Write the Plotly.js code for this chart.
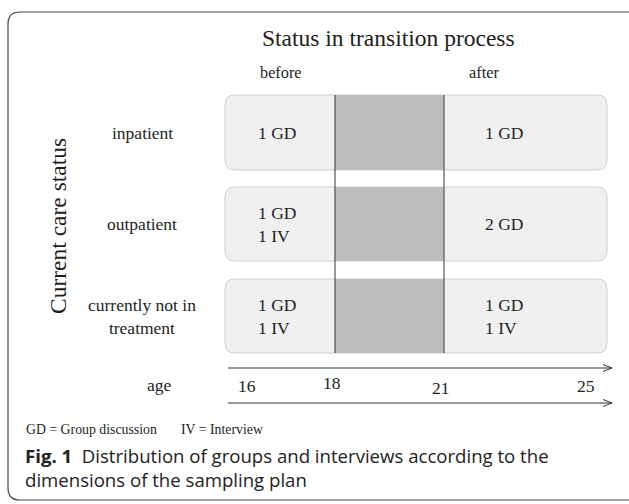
<!DOCTYPE html>
<html><head><meta charset="utf-8">
<script src="https://cdn.plot.ly/plotly-3.0.1.min.js"></script>
<style>html,body{margin:0;padding:0;background:#fff}#c{width:629px;height:504px}</style>
</head><body><div id="c"></div>
<script>
// Data
const rowLabels = ["inpatient", "outpatient", "currently not in<br>treatment"];
const beforeLabels = ["1 GD", "1 GD<br>1 IV", "1 GD<br>1 IV"];
const afterLabels = ["1 GD", "2 GD", "1 GD<br>1 IV"];
const phaseLabels = ["before", "after"];
const ageTicks = ["16", "18", "21", "25"];

// Layout geometry (pixel coordinate system)
const rowTop = [95, 187, 279];
const rowBot = [170, 261, 353];
const boxL = 225, boxR = 607;
const bandL = 335, bandR = 444;
const beforeX = 277, afterX = 504;
const labelX = 142;
const agePos = [[247, 386], [332, 383], [441, 388], [586, 386]];
const arrowY = [368, 403];

const serif = "Liberation Serif, Times New Roman, serif";
const ink = "#1e1e1e";
const shapes = [];
const annotations = [];

function rr(x0, y0, x1, y1, r) {
  return `M${x0+r},${y0} L${x1-r},${y0} Q${x1},${y0} ${x1},${y0+r} L${x1},${y1-r} Q${x1},${y1} ${x1-r},${y1} L${x0+r},${y1} Q${x0},${y1} ${x0},${y1-r} L${x0},${y0+r} Q${x0},${y0} ${x0+r},${y0} Z`;
}

// outer frame
shapes.push({type: "path", xref: "x", yref: "y", path: rr(8, 12, 660, 500, 12), line: {color: "#444", width: 1.2}, fillcolor: "rgba(0,0,0,0)"});

rowLabels.forEach((lab, i) => {
  shapes.push({type: "path", xref: "x", yref: "y", path: rr(boxL, rowTop[i], boxR, rowBot[i], 10), line: {color: "#cfcfcf", width: 1}, fillcolor: "#f0f0f0", layer: "below"});
  shapes.push({type: "rect", xref: "x", yref: "y", x0: bandL, x1: bandR, y0: rowTop[i], y1: rowBot[i], line: {width: 0}, fillcolor: "#bdbdbd", layer: "below"});
  const yc = (rowTop[i] + rowBot[i]) / 2;
  annotations.push({x: labelX, y: yc, text: lab, showarrow: false, font: {family: serif, size: 17.5, color: ink}, align: "center"});
  annotations.push({x: beforeX, y: yc, text: beforeLabels[i], showarrow: false, font: {family: serif, size: 17.5, color: ink}, align: "left"});
  annotations.push({x: afterX, y: yc, text: afterLabels[i], showarrow: false, font: {family: serif, size: 17.5, color: ink}, align: "left"});
});

// vertical lines
[bandL, bandR].forEach(x => shapes.push({type: "line", xref: "x", yref: "y", x0: x, x1: x, y0: 95, y1: 353, line: {color: "#555", width: 1.2}}));

// arrows
arrowY.forEach(y => {
  shapes.push({type: "line", xref: "x", yref: "y", x0: 228, x1: 612, y0: y, y1: y, line: {color: "#333", width: 1}});
  shapes.push({type: "path", xref: "x", yref: "y", path: `M603,${y-3.5} L612,${y} L603,${y+3.5}`, line: {color: "#333", width: 1}});
});

// age labels
annotations.push({x: 159, y: 385, text: "age", showarrow: false, font: {family: serif, size: 17.5, color: ink}});
ageTicks.forEach((t, i) => annotations.push({x: agePos[i][0], y: agePos[i][1], text: t, showarrow: false, font: {family: serif, size: 17.5, color: ink}}));

// headings
annotations.push({x: 388, y: 38, text: "Status in transition process", showarrow: false, font: {family: serif, size: 23.5, color: ink}});
annotations.push({x: 281, y: 72, text: phaseLabels[0], showarrow: false, font: {family: serif, size: 16.3, color: ink}});
annotations.push({x: 484, y: 72, text: phaseLabels[1], showarrow: false, font: {family: serif, size: 16.3, color: ink}});
annotations.push({x: 58, y: 226, text: "Current care status", textangle: -90, showarrow: false, font: {family: serif, size: 23.5, color: ink}});

// legend text
annotations.push({x: 24, y: 429, xanchor: "left", text: "GD = Group discussion", showarrow: false, font: {family: serif, size: 13.8, color: ink}});
annotations.push({x: 179, y: 429, xanchor: "left", text: "IV = Interview", showarrow: false, font: {family: serif, size: 13.8, color: ink}});

// caption
annotations.push({x: 23, y: 455, xanchor: "left", text: "<b>Fig. 1</b>&nbsp;&nbsp;Distribution of groups and interviews according to the", showarrow: false, font: {family: "Open Sans, sans-serif", size: 18.6, color: "#222"}});
annotations.push({x: 23, y: 479, xanchor: "left", text: "dimensions of the sampling plan", showarrow: false, font: {family: "Open Sans, sans-serif", size: 18.6, color: "#222"}});

const layout = {
  width: 629, height: 504,
  margin: {l: 0, r: 0, t: 0, b: 0},
  paper_bgcolor: "#fff", plot_bgcolor: "#fff",
  xaxis: {range: [0, 629], visible: false, fixedrange: true},
  yaxis: {range: [504, 0], visible: false, fixedrange: true},
  shapes: shapes, annotations: annotations, showlegend: false
};
Plotly.newPlot("c", [{x: [], y: [], type: "scatter"}], layout, {staticPlot: true});
</script></body></html>
